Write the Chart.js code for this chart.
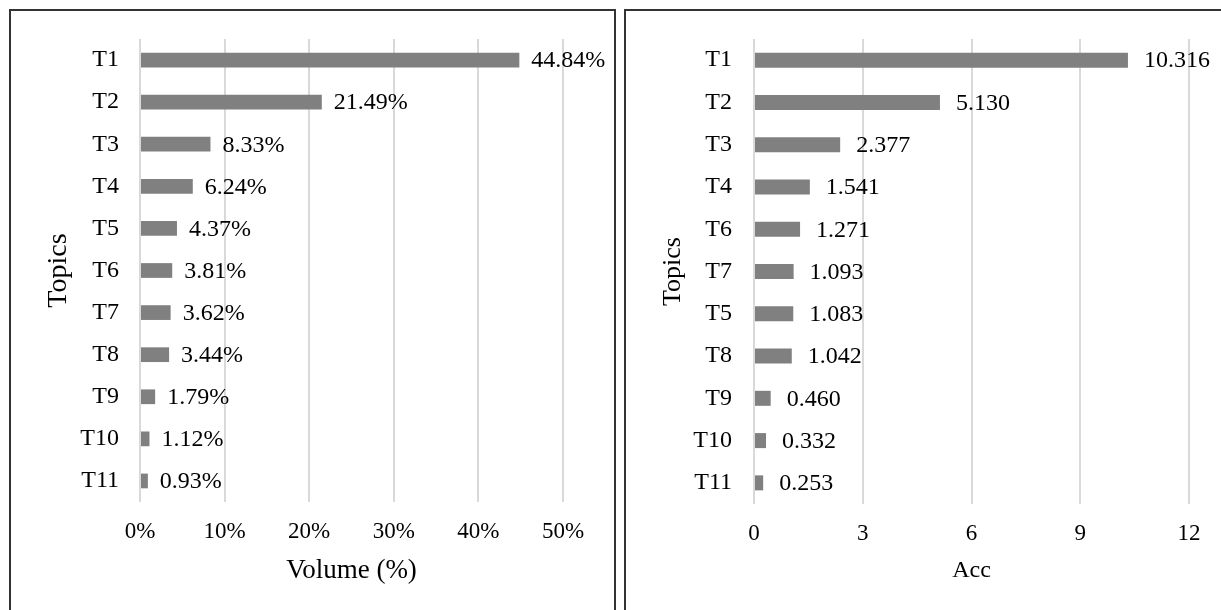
<!DOCTYPE html>
<html>
<head>
<meta charset="utf-8">
<script src="https://cdn.jsdelivr.net/npm/chart.js@4"></script>
<style>
  html, body { margin: 0; padding: 0; background: #fff; overflow: hidden; }
  body { width: 1221px; height: 610px; position: relative; }
  .panel { position: absolute; top: 9px; height: 640px; border: 2px solid #333; box-sizing: border-box; }
  .inner { position: relative; height: 616px; }
</style>
</head>
<body>
<div class="panel" style="left:9px;width:607px"><div class="inner" style="width:603px"><canvas id="volumeChart"></canvas></div></div>
<div class="panel" style="left:624px;width:604px"><div class="inner" style="width:600px"><canvas id="accChart"></canvas></div></div>
<script>
const volumeTopics = ['T1', 'T2', 'T3', 'T4', 'T5', 'T6', 'T7', 'T8', 'T9', 'T10', 'T11'];
const volumeValues = [44.84, 21.49, 8.33, 6.24, 4.37, 3.81, 3.62, 3.44, 1.79, 1.12, 0.93];
const volumeTicks = [0, 10, 20, 30, 40, 50];

const accTopics = ['T1', 'T2', 'T3', 'T4', 'T6', 'T7', 'T5', 'T8', 'T9', 'T10', 'T11'];
const accValues = [10.316, 5.130, 2.377, 1.541, 1.271, 1.093, 1.083, 1.042, 0.460, 0.332, 0.253];
const accTicks = [0, 3, 6, 9, 12];

const FONT = "'Liberation Serif', 'Times New Roman', serif";

// writes the value next to the end of each bar
const barValueLabels = {
    id: 'barValueLabels',
    afterDatasetsDraw(chart, args, opts) {
        const ctx = chart.ctx;
        const meta = chart.getDatasetMeta(0);
        const data = chart.data.datasets[0].data;
        ctx.save();
        ctx.font = opts.size + 'px ' + FONT;
        ctx.fillStyle = '#000';
        ctx.textAlign = 'left';
        ctx.textBaseline = 'middle';
        meta.data.forEach(function(bar, i) {
            ctx.fillText(opts.format(data[i]), bar.x + opts.gap, bar.y + 1);
        });
        ctx.restore();
    }
};

function makeChart(id, topics, values, ticks, cfg) {
    const ctx = document.getElementById(id).getContext('2d');
    return new Chart(ctx, {
        type: 'bar',
        data: {
            labels: topics,
            datasets: [{
                data: values,
                backgroundColor: '#808080',
                barPercentage: cfg.barPct,
                categoryPercentage: 1
            }]
        },
        plugins: [barValueLabels],
        options: {
            indexAxis: 'y',
            responsive: true,
            maintainAspectRatio: false,
            animation: false,
            layout: { padding: { left: 30, right: cfg.padRight, top: 28, bottom: cfg.padBottom } },
            plugins: {
                legend: { display: false },
                tooltip: { enabled: false },
                barValueLabels: { size: cfg.labelSize, gap: cfg.labelGap, format: cfg.format }
            },
            scales: {
                x: {
                    min: ticks[0],
                    max: ticks[ticks.length - 1],
                    afterBuildTicks: function(scale) {
                        scale.ticks = ticks.map(function(v) { return { value: v }; });
                    },
                    afterFit: function(scale) { scale.height = cfg.xHeight; },
                    grid: { color: '#d9d9d9', lineWidth: 2, drawTicks: false },
                    border: { display: false },
                    ticks: {
                        color: '#000',
                        padding: 16,
                        font: { family: FONT, size: cfg.tickSize },
                        callback: cfg.tickFormat
                    },
                    title: {
                        display: true,
                        text: cfg.xTitle,
                        color: '#000',
                        padding: { top: 0, bottom: 0 },
                        font: { family: FONT, size: cfg.xTitleSize }
                    }
                },
                y: {
                    // fixed width, and no extra room above the first label
                    afterFit: function(scale) {
                        scale.width = cfg.yWidth;
                        scale.paddingTop = 0;
                        scale.paddingBottom = 0;
                    },
                    grid: { display: false, drawTicks: false },
                    border: { display: false },
                    ticks: {
                        color: '#000',
                        padding: cfg.yPad,
                        font: { family: FONT, size: 24 }
                    },
                    title: {
                        display: true,
                        text: 'Topics',
                        color: '#000',
                        padding: { top: cfg.yTitlePad, bottom: 0 },
                        font: { family: FONT, size: cfg.yTitleSize }
                    }
                }
            }
        }
    });
}

makeChart('volumeChart', volumeTopics, volumeValues, volumeTicks, {
    barPct: 0.35,
    padRight: 51,
    padBottom: 40,
    xHeight: 85,
    yWidth: 99,
    yPad: 21,
    labelGap: 12,
    labelSize: 24,
    tickSize: 23,
    xTitle: 'Volume (%)',
    xTitleSize: 27,
    yTitleSize: 28,
    yTitlePad: 1,
    tickFormat: function(v) { return v + '%'; },
    format: function(v) { return v.toFixed(2) + '%'; }
});

makeChart('accChart', accTopics, accValues, accTicks, {
    barPct: 0.355,
    padRight: 37,
    padBottom: 42,
    xHeight: 81,
    yWidth: 98,
    yPad: 22,
    labelGap: 16,
    labelSize: 24,
    tickSize: 23,
    xTitle: 'Acc',
    xTitleSize: 24,
    yTitleSize: 26,
    yTitlePad: 2,
    tickFormat: function(v) { return String(v); },
    format: function(v) { return v.toFixed(3); }
});
</script>
</body>
</html>
